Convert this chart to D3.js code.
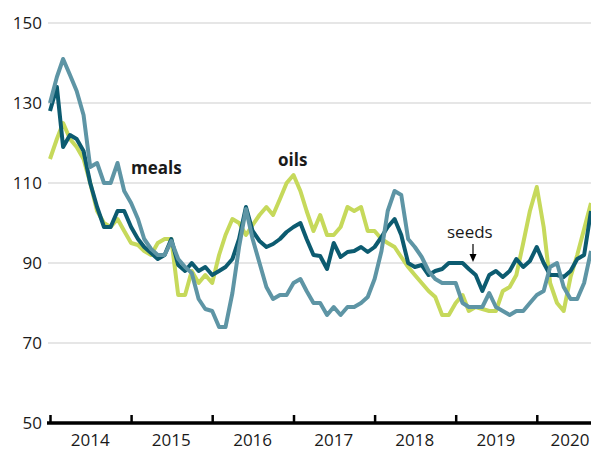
<!DOCTYPE html>
<html>
<head>
<meta charset="utf-8">
<script src="https://cdn.jsdelivr.net/npm/d3@7"></script>
<style>
  body { margin: 0; background: #fff; }
  text { font-family: "Open Sans", "Noto Sans", sans-serif; fill: #1a1a1a; }
</style>
</head>
<body>
<div class="chart"></div>
<script>
// monthly index values, Jan 2014 - Sep 2020
var oils = [116,121,125,121,119,116,110,103,100,99,101,98,
  95,94.5,93,92,95,96,96,82,82,88,85,87,
  85,92,97,101,100,97,99.5,102,104,102,106,110,
  112,108,103,98,102,97,97,99,104,103,104,98,
  98,96,95,94,91.5,89,87,85,83,81.5,77,77,
  80,82,78,79,78.5,78,78,83,84,87,95,103,
  109,99,85,80,78,86.5,92,98.5,105];
var seeds = [128,134,119,122,121,118,110,104,99,99,103,103,
  99,96,94,92.5,91,92,96,89.5,88,90,88,89,
  87,88,89,91,96,104,98,95.5,94,94.75,96,97.75,
  99,100,96,92,91.75,88.5,95,91.5,92.75,93,94,92.75,
  94,96.5,99,101,97,90,89,89.5,87,88,88.5,90,
  90,90,88.5,87,83,87,88,86.5,88,91,89,90.5,
  94,90,87,87,86.5,88,91,92,103];
var meals = [130,136.5,141,137,133,127,114,115,110,110,115,108,
  105,101,96,93.5,92,92,95.5,91,89,87.5,81,78.5,
  78,74,74,82.5,94,103.5,96,90,84,81,82,82,
  85,86,83,80,80,77,79,77,79,79,80,81.5,
  86,93,103,108,107,96,94,91.5,88,86,85,85,
  85,80,79,79,79,82.5,79,78,77,78,78,80,
  82,83,89,90,84,81,81,85,93];
var yTicks = [50,70,90,110,130,150];
var years = [2014,2015,2016,2017,2018,2019,2020];

var svgWidth = 591;
var svgHeight = 450;

var months = d3.timeMonth.range(new Date(2014,0,1), new Date(2020,9,1));

var svg = d3.select('.chart')
  .append('svg')
  .attr('width', svgWidth)
  .attr('height', svgHeight);

var x = d3.scaleTime()
  .domain([months[0], months[months.length-1]])
  .range([50, 591]);
var y = d3.scaleLinear().domain([50,150]).range([423,23]);

// gridlines
svg.append('g')
  .selectAll('line')
  .data(yTicks.slice(1))
  .enter()
  .append('line')
  .attr('x1', 48).attr('x2', 591)
  .attr('y1', function(d){ return y(d); })
  .attr('y2', function(d){ return y(d); })
  .attr('stroke', '#e6e6e6')
  .attr('stroke-width', 2);

// y labels
svg.append('g')
  .selectAll('text')
  .data(yTicks)
  .enter()
  .append('text')
  .attr('x', 42)
  .attr('y', function(d){ return y(d); })
  .attr('dy', '0.36em')
  .attr('text-anchor', 'end')
  .attr('font-size', '17px')
  .text(function(d){ return d; });

// lines
var line = d3.line()
  .x(function(d, i){ return x(months[i]); })
  .y(function(d){ return y(d); });

var series = [
  {values: oils, color: '#c6d95b'},
  {values: seeds, color: '#0c5b70'},
  {values: meals, color: '#5e95a5'}
];
svg.append('g')
  .selectAll('path')
  .data(series)
  .enter()
  .append('path')
  .attr('d', function(d){ return line(d.values); })
  .attr('fill', 'none')
  .attr('stroke', function(d){ return d.color; })
  .attr('stroke-width', 4)
  .attr('stroke-linejoin', 'round');

// x axis
var bottomAxis = d3.axisBottom(x)
  .tickValues(years.map(function(yr){ return new Date(yr,0,1); }))
  .tickSize(-8)
  .tickFormat('');
var axisG = svg.append('g')
  .attr('transform', 'translate(0,423)')
  .call(bottomAxis);
axisG.select('.domain').remove();
axisG.selectAll('.tick line').attr('stroke', '#000').attr('stroke-width', 2.5);
axisG.append('line')
  .attr('x1', 47).attr('x2', 591)
  .attr('stroke', '#000')
  .attr('stroke-width', 3.5);

svg.append('g')
  .selectAll('text')
  .data(years)
  .enter()
  .append('text')
  .attr('x', function(d){ return Math.min(x(new Date(d,6,1)), 570); })
  .attr('y', 446)
  .attr('text-anchor', 'middle')
  .attr('font-size', '17px')
  .text(function(d){ return d; });

// series labels
svg.append('text').attr('x', 131).attr('y', 174)
  .attr('font-size', '17px').attr('font-weight', 'bold').text('meals');
svg.append('text').attr('x', 278).attr('y', 166)
  .attr('font-size', '17px').attr('font-weight', 'bold').text('oils');
svg.append('text').attr('x', 447).attr('y', 238)
  .attr('font-size', '17px').text('seeds');

// arrow to seeds line
svg.append('line')
  .attr('x1', 473).attr('x2', 473)
  .attr('y1', 244).attr('y2', 256)
  .attr('stroke', '#000').attr('stroke-width', 1.2);
svg.append('path')
  .attr('d', 'M469.5,254 L476.5,254 L473,262 Z')
  .attr('fill', '#000');
</script>
</body>
</html>
